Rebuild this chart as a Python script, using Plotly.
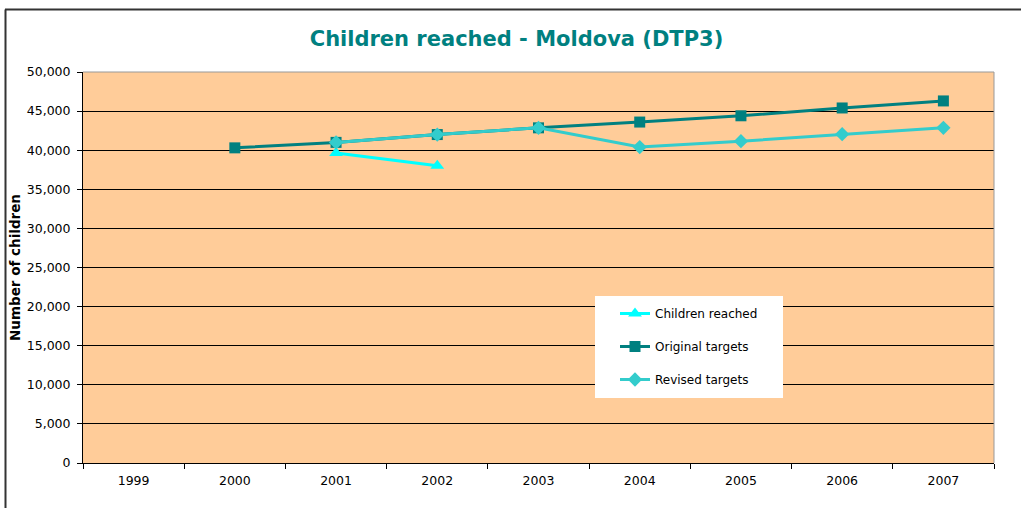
import plotly.graph_objects as go

years = ["1999", "2000", "2001", "2002", "2003", "2004", "2005", "2006", "2007"]
children_reached = [None, None, 39650, 38000, None, None, None, None, None]
original_targets = [None, 40300, 41000, 42000, 42860, 43600, 44400, 45400, 46300]
revised_targets = [None, None, 41000, 42000, 42860, 40400, 41150, 42050, 42860]
y_ticks = [0, 5000, 10000, 15000, 20000, 25000, 30000, 35000, 40000, 45000, 50000]

FONT = "DejaVu Sans, Verdana, sans-serif"
L, R, T, B = 83, 994, 72, 463
PW, PH = R - L, B - T


def px(xp):
    return (xp - L) / PW


def py(yp):
    return (B - yp) / PH


fig = go.Figure()
fig.add_trace(go.Scatter(
    x=years, y=children_reached, name="Children reached", mode="lines+markers",
    legendgroup="a",
    line=dict(color="#00FFFF", width=3),
    marker=dict(symbol="triangle-up", size=12, color="#00FFFF"),
))
fig.add_trace(go.Scatter(
    x=years, y=original_targets, name="Original targets", mode="lines+markers",
    legendgroup="b",
    line=dict(color="#008080", width=3),
    marker=dict(symbol="square", size=11, color="#008080"),
))
fig.add_trace(go.Scatter(
    x=years, y=revised_targets, name="Revised targets", mode="lines+markers",
    legendgroup="c",
    line=dict(color="#33CCCC", width=3),
    marker=dict(symbol="diamond", size=11, color="#33CCCC"),
))

fig.update_layout(
    width=1021, height=508,
    margin=dict(l=L, r=1021 - R, t=T, b=508 - B),
    paper_bgcolor="white",
    plot_bgcolor="#FFCC99",
    font=dict(family=FONT, size=12, color="black"),
    title=dict(text="<b>Children reached - Moldova (DTP3)</b>", x=516.5 / 1021, xanchor="center",
               y=1 - 38.5 / 508, yanchor="middle",
               font=dict(size=21, color="#008080", family=FONT)),
    showlegend=True,
    legend=dict(
        x=px(615), y=py(299), xanchor="left", yanchor="top",
        bgcolor="rgba(0,0,0,0)", borderwidth=0,
        traceorder="grouped",
        font=dict(size=12, family=FONT),
        itemwidth=30,
        tracegroupgap=14,
    ),
    xaxis=dict(
        type="category", categoryorder="array", categoryarray=years,
        range=[-0.5, 8.5], tickson="boundaries",
        ticks="outside", ticklen=5, tickcolor="black",
        showline=True, linecolor="black", linewidth=1,
        showgrid=False, zeroline=False, mirror=False,
        tickfont=dict(size=12.5, family=FONT),
        ticklabelstandoff=6,
    ),
    yaxis=dict(
        range=[0, 50000], tickvals=y_ticks, tickformat=",d",
        ticks="outside", ticklen=5, tickcolor="black",
        showline=True, linecolor="black", linewidth=1,
        showgrid=True, gridcolor="black", gridwidth=1, zeroline=False,
        title=dict(text="<b>Number of children</b>", font=dict(size=13.5, family=FONT), standoff=3),
        tickfont=dict(size=12.5, family=FONT),
        ticklabelstandoff=4,
    ),
    shapes=[
        # legend box
        dict(type="rect", xref="paper", yref="paper", layer="above",
             x0=px(595), x1=px(783), y0=py(398), y1=py(296),
             fillcolor="white", line=dict(width=0)),
        # plot area border top/right (gray)
        dict(type="line", xref="paper", yref="paper", x0=0, x1=1, y0=1, y1=1,
             line=dict(color="#999999", width=1)),
        dict(type="line", xref="paper", yref="paper", x0=1, x1=1, y0=0, y1=1,
             line=dict(color="#999999", width=1)),
        # chart outer border (top and left visible)
        dict(type="line", xref="paper", yref="paper",
             x0=px(5), x1=1.1, y0=py(9.5), y1=py(9.5),
             line=dict(color="#333333", width=2)),
        dict(type="line", xref="paper", yref="paper",
             x0=px(5.5), x1=px(5.5), y0=-0.2, y1=py(9.5),
             line=dict(color="#333333", width=2)),
    ],
)

fig.write_html("out.html", config={"displayModeBar": False},
               post_script="document.body.style.margin='0';document.body.style.padding='0';")
